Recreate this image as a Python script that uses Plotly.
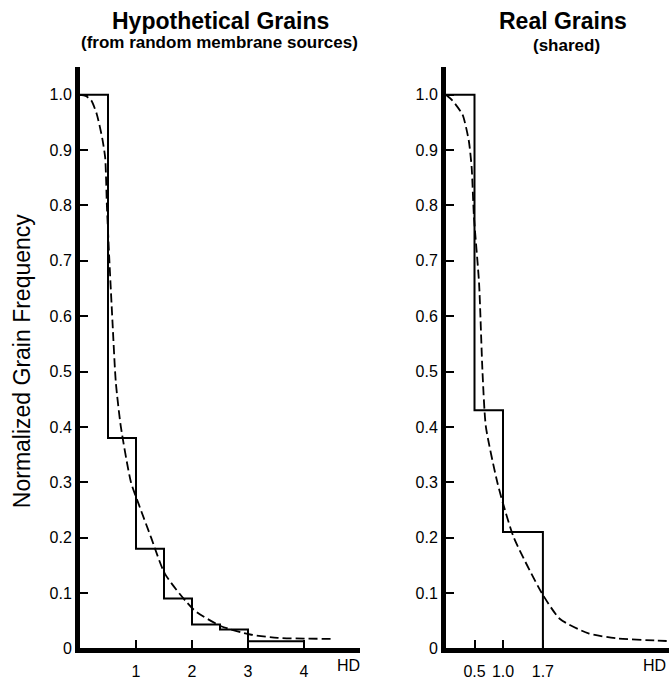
import plotly.graph_objects as go

W, H = 669, 683

# ---------------- data ----------------
left_bin_edges = [0, 0.5, 1.0, 1.5, 2.0, 2.5, 3.0, 4.0]
left_bin_values = [1.0, 0.38, 0.18, 0.09, 0.043, 0.034, 0.013]
left_curve_x = [0, 0.1, 0.2, 0.3, 0.4, 0.45, 0.48, 0.52, 0.58, 0.64, 0.73, 0.91,
                1.05, 1.27, 1.52, 2.04, 2.52, 3.04, 3.53, 4.51]
left_curve_y = [1.0, 0.998, 0.99, 0.965, 0.92, 0.886, 0.80, 0.71, 0.59, 0.48, 0.40,
                0.30, 0.26, 0.20, 0.134, 0.069, 0.040, 0.025, 0.019, 0.017]
left_xtick_vals = [1, 2, 3, 4]
left_xtick_text = ["1", "2", "3", "4"]

right_bin_edges = [0, 0.5, 1.0, 1.7]
right_bin_values = [1.0, 0.43, 0.21]
right_curve_x = [0, 0.11, 0.29, 0.40, 0.45, 0.49, 0.58, 0.64, 0.70, 0.90, 1.0,
                 1.19, 1.68, 2.0, 2.5, 3.0, 3.7, 3.95]
right_curve_y = [1.0, 0.99, 0.964, 0.917, 0.869, 0.78, 0.66, 0.50, 0.40, 0.30,
                 0.262, 0.20, 0.10, 0.053, 0.027, 0.018, 0.014, 0.013]
right_xtick_vals = [0.5, 1.0, 1.7]
right_xtick_text = ["0.5", "1.0", "1.7"]

ytick_vals = [0, 0.1, 0.2, 0.3, 0.4, 0.5, 0.6, 0.7, 0.8, 0.9, 1.0]
ytick_text = ["0", "0.1", "0.2", "0.3", "0.4", "0.5", "0.6", "0.7", "0.8", "0.9", "1.0"]

title_left = "Hypothetical Grains"
subtitle_left = "(from random membrane sources)"
title_right = "Real Grains"
subtitle_right = "(shared)"
y_title = "Normalized Grain Frequency"
x_unit = "HD"


def step_points(edges, values):
    xs = list(edges[:-1]) + [edges[-1], edges[-1]]
    ys = list(values) + [values[-1], 0]
    return xs, ys


FONT = "Liberation Sans, Arial, sans-serif"
DASH = "9px,4px"

fig = go.Figure()

lx, ly = step_points(left_bin_edges, left_bin_values)
fig.add_trace(go.Scatter(x=lx, y=ly, mode="lines", line=dict(color="black", width=2, shape="hv"),
                         xaxis="x", yaxis="y", showlegend=False, hoverinfo="skip"))
fig.add_trace(go.Scatter(x=left_curve_x, y=left_curve_y, mode="lines",
                         line=dict(color="black", width=1.8, dash=DASH, shape="spline", smoothing=0.6),
                         xaxis="x", yaxis="y", showlegend=False, hoverinfo="skip"))

rx, ry = step_points(right_bin_edges, right_bin_values)
fig.add_trace(go.Scatter(x=rx, y=ry, mode="lines", line=dict(color="black", width=2, shape="hv"),
                         xaxis="x2", yaxis="y2", showlegend=False, hoverinfo="skip"))
fig.add_trace(go.Scatter(x=right_curve_x, y=right_curve_y, mode="lines",
                         line=dict(color="black", width=1.8, dash=DASH, shape="spline", smoothing=0.6),
                         xaxis="x2", yaxis="y2", showlegend=False, hoverinfo="skip"))

# pixel geometry
L_X0, L_UNIT = 80, 56
R_X0, R_UNIT = 446, 57
Y_BOT, Y_TOP = 657, 68
Y_MAX = 1.05

def px_x(p):
    return p / W

def px_y(p):
    return 1 - p / H

axis_common = dict(showgrid=False, zeroline=False, showline=True, linecolor="black", linewidth=5,
                   ticks="inside", ticklen=8, tickwidth=1.5, tickcolor="black",
                   tickfont=dict(family=FONT, size=16, color="black"))

fig.update_layout(
    width=W, height=H, autosize=False,
    margin=dict(l=0, r=0, t=0, b=0, pad=0),
    paper_bgcolor="white", plot_bgcolor="white",
    xaxis=dict(domain=[px_x(L_X0), px_x(L_X0 + 5 * L_UNIT)], range=[0, 5],
               tickmode="array", tickvals=left_xtick_vals, ticktext=left_xtick_text,
               anchor="y", ticklabelstandoff=4, **axis_common),
    yaxis=dict(domain=[px_y(Y_BOT), px_y(Y_TOP)], range=[0, Y_MAX],
               tickmode="array", tickvals=ytick_vals, ticktext=ytick_text,
               anchor="x", ticklabelstandoff=0, **axis_common),
    xaxis2=dict(domain=[px_x(R_X0), 1.0], range=[0, (W - R_X0) / R_UNIT],
                tickmode="array", tickvals=right_xtick_vals, ticktext=right_xtick_text,
                anchor="y2", ticklabelstandoff=4, **axis_common),
    yaxis2=dict(domain=[px_y(Y_BOT), px_y(Y_TOP)], range=[0, Y_MAX],
                tickmode="array", tickvals=ytick_vals, ticktext=ytick_text,
                anchor="x2", ticklabelstandoff=0, **axis_common),
)

ann = []
ann.append(dict(text="<b>" + title_left + "</b>", x=px_x(220), y=px_y(21), xref="paper", yref="paper",
                showarrow=False, font=dict(family=FONT, size=23, color="black"), xanchor="center", yanchor="middle"))
ann.append(dict(text="<b>" + subtitle_left + "</b>", x=px_x(219), y=px_y(43), xref="paper", yref="paper",
                showarrow=False, font=dict(family=FONT, size=17, color="black"), xanchor="center", yanchor="middle"))
ann.append(dict(text="<b>" + title_right + "</b>", x=px_x(563), y=px_y(21), xref="paper", yref="paper",
                showarrow=False, font=dict(family=FONT, size=23, color="black"), xanchor="center", yanchor="middle"))
ann.append(dict(text="<b>" + subtitle_right + "</b>", x=px_x(566), y=px_y(46), xref="paper", yref="paper",
                showarrow=False, font=dict(family=FONT, size=17, color="black"), xanchor="center", yanchor="middle"))
ann.append(dict(text=y_title, x=px_x(22), y=px_y(366), xref="paper", yref="paper", textangle=-90,
                showarrow=False, font=dict(family=FONT, size=23, color="black"), xanchor="center", yanchor="middle"))
ann.append(dict(text=x_unit, x=4.8, y=px_y(674), xref="x", yref="paper",
                showarrow=False, font=dict(family=FONT, size=16, color="black"), xanchor="center", yanchor="middle"))
ann.append(dict(text=x_unit, x=3.65, y=px_y(674), xref="x2", yref="paper",
                showarrow=False, font=dict(family=FONT, size=16, color="black"), xanchor="center", yanchor="middle"))
fig.update_layout(annotations=ann)

fig.write_html("out.html",
               config={"displayModeBar": False, "responsive": False},
               post_script="document.body.style.margin='0px';document.body.style.overflow='hidden';")
